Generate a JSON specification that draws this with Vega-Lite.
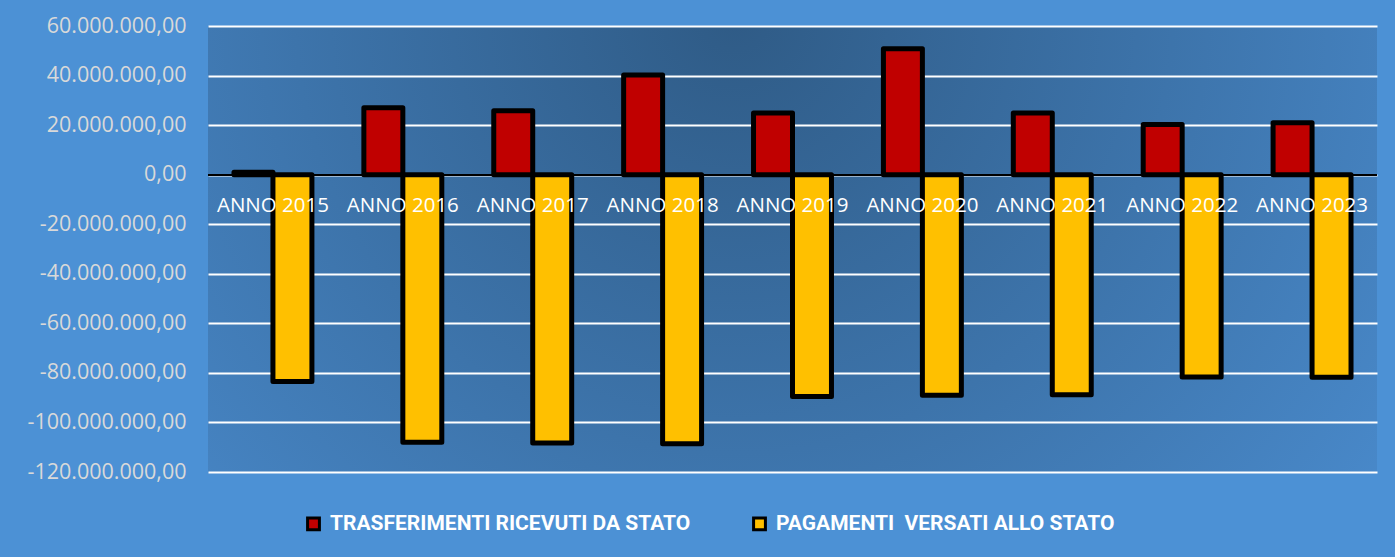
{
  "$schema": "https://vega.github.io/schema/vega-lite/v6.json",
  "width": 1169,
  "height": 446,
  "autosize": "none",
  "padding": {"left": 208, "top": 26, "right": 18, "bottom": 85},
  "background": "#4c91d5",
  "config": {
    "locale": {"number": {"decimal": ",", "thousands": ".", "grouping": [3], "currency": ["", " €"], "minus": "-"}},
    "view": {
      "stroke": null,
      "fill": {"gradient": "radial", "x1": 0.45, "y1": 0.3, "r1": 0, "x2": 0.45, "y2": 0.3, "r2": 0.75,
        "stops": [{"offset": 0, "color": "#2f5b86"}, {"offset": 1, "color": "#4b8dd0"}]}
    },
    "font": "Open Sans"
  },
  "data": {
    "values": [
      {"anno": "ANNO 2015", "serie": "TRASFERIMENTI RICEVUTI DA STATO", "valore": 1000000},
      {"anno": "ANNO 2015", "serie": "PAGAMENTI  VERSATI ALLO STATO", "valore": -83500000},
      {"anno": "ANNO 2016", "serie": "TRASFERIMENTI RICEVUTI DA STATO", "valore": 27000000},
      {"anno": "ANNO 2016", "serie": "PAGAMENTI  VERSATI ALLO STATO", "valore": -108000000},
      {"anno": "ANNO 2017", "serie": "TRASFERIMENTI RICEVUTI DA STATO", "valore": 25800000},
      {"anno": "ANNO 2017", "serie": "PAGAMENTI  VERSATI ALLO STATO", "valore": -108300000},
      {"anno": "ANNO 2018", "serie": "TRASFERIMENTI RICEVUTI DA STATO", "valore": 40200000},
      {"anno": "ANNO 2018", "serie": "PAGAMENTI  VERSATI ALLO STATO", "valore": -108600000},
      {"anno": "ANNO 2019", "serie": "TRASFERIMENTI RICEVUTI DA STATO", "valore": 24900000},
      {"anno": "ANNO 2019", "serie": "PAGAMENTI  VERSATI ALLO STATO", "valore": -89500000},
      {"anno": "ANNO 2020", "serie": "TRASFERIMENTI RICEVUTI DA STATO", "valore": 50800000},
      {"anno": "ANNO 2020", "serie": "PAGAMENTI  VERSATI ALLO STATO", "valore": -89000000},
      {"anno": "ANNO 2021", "serie": "TRASFERIMENTI RICEVUTI DA STATO", "valore": 24900000},
      {"anno": "ANNO 2021", "serie": "PAGAMENTI  VERSATI ALLO STATO", "valore": -88800000},
      {"anno": "ANNO 2022", "serie": "TRASFERIMENTI RICEVUTI DA STATO", "valore": 20200000},
      {"anno": "ANNO 2022", "serie": "PAGAMENTI  VERSATI ALLO STATO", "valore": -81700000},
      {"anno": "ANNO 2023", "serie": "TRASFERIMENTI RICEVUTI DA STATO", "valore": 21000000},
      {"anno": "ANNO 2023", "serie": "PAGAMENTI  VERSATI ALLO STATO", "valore": -81800000}
    ]
  },
  "encoding": {
    "x": {"field": "anno", "type": "nominal", "scale": {"paddingInner": 0.4, "paddingOuter": 0.2}, "axis": null}
  },
  "layer": [
    {
      "mark": {"type": "bar", "stroke": "black", "strokeWidth": 5, "strokeJoin": "round"},
      "encoding": {
        "y": {"field": "valore", "type": "quantitative",
          "scale": {"domain": [-120000000, 60000000], "nice": false},
          "axis": {"title": null, "values": [-120000000, -100000000, -80000000, -60000000, -40000000, -20000000, 0, 20000000, 40000000, 60000000],
            "format": ",.2f", "labelColor": "#d9d9d9", "labelFontSize": 21.5, "labelPadding": 22,
            "ticks": false, "domain": false, "gridColor": "white", "gridWidth": 2, "gridOpacity": 1}},
        "xOffset": {"field": "serie", "type": "nominal", "scale": {"domain": ["TRASFERIMENTI RICEVUTI DA STATO", "PAGAMENTI  VERSATI ALLO STATO"]}},
        "color": {"field": "serie", "type": "nominal",
          "scale": {"domain": ["TRASFERIMENTI RICEVUTI DA STATO", "PAGAMENTI  VERSATI ALLO STATO"], "range": ["#c00000", "#ffc000"]},
          "legend": {"title": null, "orient": "none", "direction": "horizontal", "legendX": 95, "legendY": 487,
            "symbolType": "square", "symbolSize": 140, "symbolStrokeColor": "black", "symbolStrokeWidth": 3, "symbolOpacity": 1,
            "labelColor": "white", "labelFontWeight": "bold", "labelFontSize": 21, "labelFont": "Roboto",
            "labelLimit": 500, "columnPadding": 56, "symbolOffset": 0, "labelOffset": 6,
            "labelExpr": "replace(datum.label, '  ', '\u00a0 ')"}}
      }
    },
    {
      "mark": {"type": "rule", "color": "black", "strokeWidth": 1.3},
      "encoding": {"y": {"datum": 0}, "x": {"value": 0}, "x2": {"value": 1169}}
    },
    {
      "transform": [{"filter": "datum.serie === 'TRASFERIMENTI RICEVUTI DA STATO'"}],
      "mark": {"type": "text", "color": "white", "fontSize": 20.5, "dy": 31, "baseline": "middle"},
      "encoding": {"y": {"datum": 0}, "text": {"field": "anno"}}
    }
  ]
}
